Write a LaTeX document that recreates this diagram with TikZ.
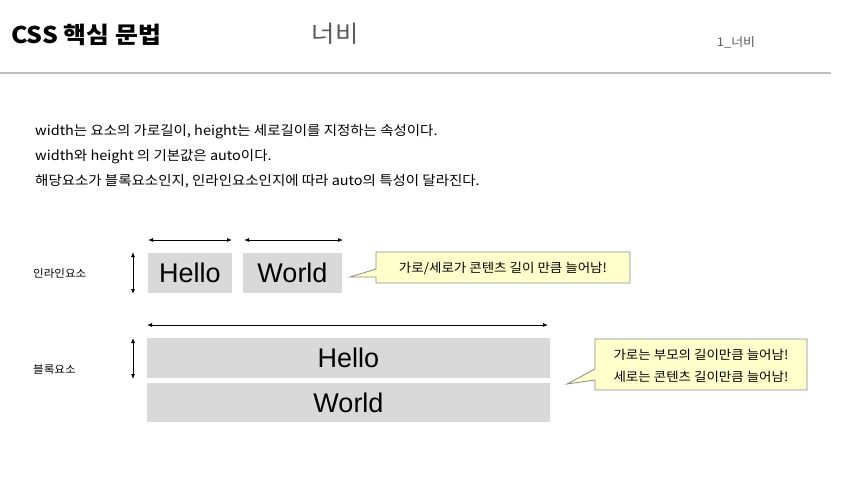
\documentclass[tikz,border=0pt]{standalone}
\usepackage{fontspec}
\setmainfont{Noto Sans CJK KR}[FakeStretch=1.08]
\newfontfamily\arialf{Liberation Sans}
\usetikzlibrary{arrows.meta}
\definecolor{boxgray}{HTML}{D9D9D9}
\definecolor{calloutfill}{HTML}{FFFFCC}
\definecolor{calloutline}{HTML}{8C8C8C}
\definecolor{rulegray}{HTML}{BFBFBF}
\definecolor{subgray}{HTML}{595959}
\tikzset{
  demobox/.style={fill=boxgray, draw=none, inner sep=0pt, font=\arialf\fontsize{27}{29}\selectfont},
  dimarrow/.style={{Latex[length=5pt,width=4pt]}-{Latex[length=5pt,width=4pt]}, line width=0.8pt, black},
  callout/.style={fill=calloutfill, draw=calloutline, line width=0.8pt},
  calltext/.style={font=\fontsize{12.5}{14}\selectfont, inner sep=0pt},
  bodytext/.style={anchor=west, font=\fontsize{13.4}{15}\selectfont, inner sep=0pt},
  sidelabel/.style={anchor=west, font=\fontsize{10.7}{12}\selectfont, inner sep=0pt}
}
\begin{document}
\begin{tikzpicture}[x=1pt,y=-1pt]
\useasboundingbox (0,0) rectangle (846,491);
% header
\node[anchor=west, inner sep=0pt, font=\bfseries\fontsize{23}{26}\selectfont] (title) at (11,35) {CSS 핵심 문법};
\node[inner sep=0pt, text=subgray, font=\fontsize{23.5}{26}\selectfont] (sub) at (335,34) {너비};
\node[inner sep=0pt, text=subgray, font=\fontsize{12}{14}\selectfont] (page) at (736,42) {1\_너비};
\coordinate (rl) at (0,73);
\coordinate (rr) at (831,73);
\draw[rulegray, line width=1.5pt] (rl) -- (rr);
% body text
\node[bodytext] (t1) at (35,132) {width는 요소의 가로길이, height는 세로길이를 지정하는 속성이다.};
\node[bodytext] (t2) at (35,157) {width와 height 의 기본값은 auto이다.};
\node[bodytext] (t3) at (35,181) {해당요소가 블록요소인지, 인라인요소인지에 따라 auto의 특성이 달라진다.};
% inline
\node[sidelabel] (lab1) at (33,273) {인라인요소};
\node[demobox, minimum width=84pt, minimum height=40pt] (h1) at (190,273) {Hello};
\node[demobox, minimum width=99pt, minimum height=40pt] (w1) at (292.5,273) {World};
\coordinate (a1l) at (148,240);
\coordinate (a1r) at (232,240);
\coordinate (a2l) at (244,240);
\coordinate (a2r) at (343,240);
\draw[dimarrow] (a1l) -- (a1r);
\draw[dimarrow] (a2l) -- (a2r);
\coordinate (v1t) at (133,252);
\coordinate (v1b) at (133,294);
\draw[dimarrow] (v1t) -- (v1b);
\draw[callout] (376,252) -- (630,252) -- (630,283) -- (376,283) -- (376,277) -- (350,277) -- (376,269) -- cycle;
\node[calltext] (c1) at (503,268) {가로/세로가 콘텐츠 길이 만큼 늘어남!};
% block
\node[sidelabel] (lab2) at (33,370) {블록요소};
\node[demobox, minimum width=403pt, minimum height=40pt] (h2) at (348.5,358) {Hello};
\node[demobox, minimum width=403pt, minimum height=39pt] (w2) at (348.5,402.5) {World};
\coordinate (a3l) at (147,325);
\coordinate (a3r) at (548,325);
\draw[dimarrow] (a3l) -- (a3r);
\coordinate (v2t) at (133,338);
\coordinate (v2b) at (133,379);
\draw[dimarrow] (v2t) -- (v2b);
\draw[callout] (595,339) -- (807,339) -- (807,390) -- (595,390) -- (595,380) -- (567,384) -- (595,369) -- cycle;
\node[calltext] (c2a) at (701,355) {가로는 부모의 길이만큼 늘어남!};
\node[calltext] (c2b) at (701,377) {세로는 콘텐츠 길이만큼 늘어남!};
\end{tikzpicture}
\end{document}
